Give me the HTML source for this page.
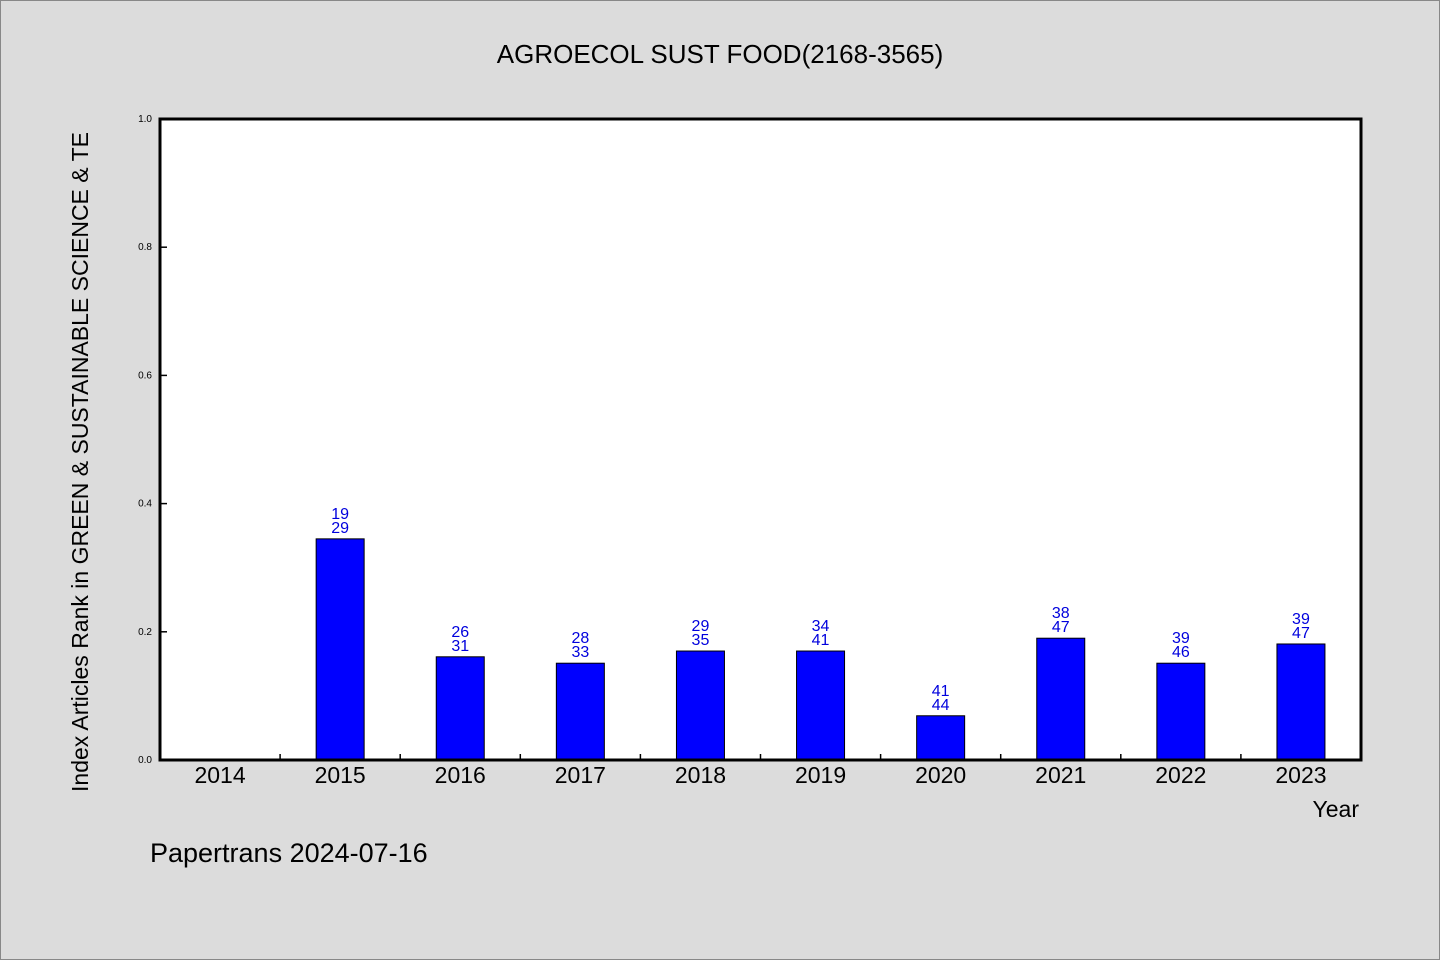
<!DOCTYPE html>
<html><head><meta charset="utf-8"><style>
html,body{margin:0;padding:0;background:#dcdcdc;}
svg{display:block;font-family:"WenQuanYi Zen Hei","Liberation Sans",sans-serif;}
</style></head><body>
<svg id="chart" width="1440" height="960">
<rect x="0.5" y="0.5" width="1439" height="959" fill="#dcdcdc" stroke="#888"/>
<text x="720" y="63" font-size="26" text-anchor="middle">AGROECOL SUST FOOD(2168-3565)</text>
<rect x="160" y="119" width="1201" height="641" fill="#fff"/>
<g id="marks"></g>
<rect x="160" y="119" width="1201" height="641" fill="none" stroke="#000" stroke-width="3"/>
<text transform="translate(88,462) rotate(-90)" font-size="23" text-anchor="middle">Index Articles Rank in GREEN &amp; SUSTAINABLE SCIENCE &amp; TE</text>
<text x="1359" y="817" font-size="23" text-anchor="end">Year</text>
<text x="150" y="862" font-size="27">Papertrans 2024-07-16</text>
</svg>
<script>
const categories=["2014","2015","2016","2017","2018","2019","2020","2021","2022","2023"];
const values=[0,0.345,0.161,0.151,0.170,0.170,0.069,0.190,0.151,0.181];
const labelTop=["","19","26","28","29","34","41","38","39","39"];
const labelBottom=["","29","31","33","35","41","44","47","46","47"];
const yTicks=[0,0.2,0.4,0.6,0.8,1.0];
const L=160,R=1361,T=119,B=760;
const xBand=(L-R)/-categories.length;
const x=i=>L+xBand*(i+0.5);
const y=v=>B-(v)*(B-T);
const NS="http://www.w3.org/2000/svg";
const g=document.getElementById("marks");
function mk(tag,attrs){const e=document.createElementNS(NS,tag);for(const k in attrs)e.setAttribute(k,attrs[k]);g.appendChild(e);return e;}
yTicks.forEach(t=>{
 const ln=mk("line",{x1:L,x2:L+7,y1:y(t),y2:y(t),stroke:"#000","stroke-width":1.5});
 
 
 const tx=mk("text",{x:L-8,y:y(t)+3,"font-size":10,"text-anchor":"end"});
 tx.textContent=t.toFixed(1);
 
 
});
categories.forEach((c,i)=>{
 if(i>0){
  const tk=mk("line",{x1:L+xBand*i,x2:L+xBand*i,y1:B,y2:B-6,stroke:"#000","stroke-width":1.5});
  
  
 }
 const tl=mk("text",{x:x(i),y:B+23,"font-size":23,"text-anchor":"middle"});
 tl.textContent=c;
 
 
 if(values[i]>0){
  const bar=mk("rect",{x:x(i)-24,y:y(values[i]),width:48,height:B-y(values[i]),fill:"#0000ff",stroke:"#000","stroke-width":1});
  
  
  const a=mk("text",{x:x(i),y:y(values[i])-20,"font-size":16,fill:"#0000dd","text-anchor":"middle"});
  a.textContent=labelTop[i];
  
  
  const b=mk("text",{x:x(i),y:y(values[i])-6,"font-size":16,fill:"#0000dd","text-anchor":"middle"});
  b.textContent=labelBottom[i];
  
  
 }
});
</script>
</body></html>
